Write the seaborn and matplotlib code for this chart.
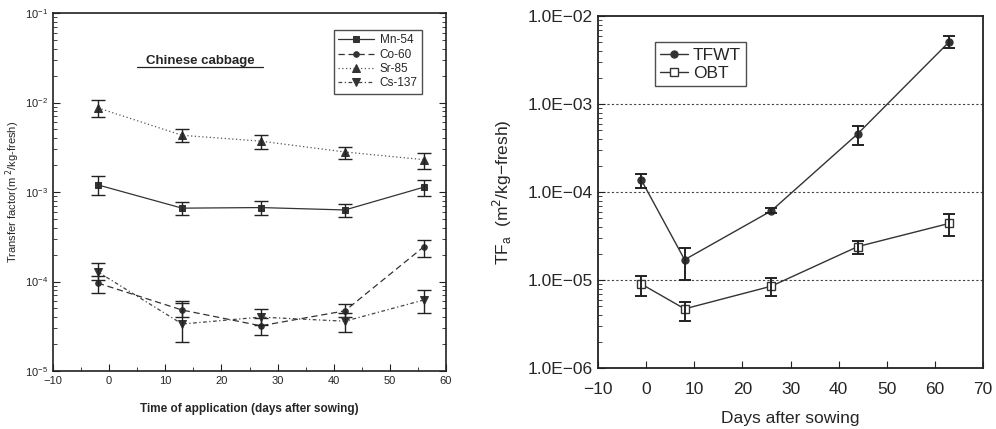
import numpy as np
import pandas as pd
import matplotlib
matplotlib.use("Agg")
import matplotlib.pyplot as plt
import matplotlib.ticker as mticker
import seaborn as sns

# ---- Left panel data (Chinese cabbage) ----
left_days = [-2, 13, 27, 42, 56]
mn54 = [1.2e-3, 6.6e-4, 6.7e-4, 6.3e-4, 1.13e-3]
mn54_hi = [1.5e-3, 7.8e-4, 7.9e-4, 7.4e-4, 1.35e-3]
mn54_lo = [9.2e-4, 5.5e-4, 5.6e-4, 5.3e-4, 9.0e-4]
co60 = [9.6e-5, 4.8e-5, 3.2e-5, 4.7e-5, 2.43e-4]
co60_hi = [1.15e-4, 5.8e-5, 3.9e-5, 5.6e-5, 2.9e-4]
co60_lo = [7.5e-5, 4.0e-5, 2.5e-5, 4.0e-5, 1.9e-4]
sr85 = [8.7e-3, 4.3e-3, 3.7e-3, 2.8e-3, 2.3e-3]
sr85_hi = [1.07e-2, 5.0e-3, 4.3e-3, 3.2e-3, 2.7e-3]
sr85_lo = [6.8e-3, 3.6e-3, 3.0e-3, 2.35e-3, 1.8e-3]
cs137 = [1.28e-4, 3.35e-5, 4.0e-5, 3.6e-5, 6.2e-5]
cs137_hi = [1.6e-4, 6.0e-5, 4.9e-5, 4.4e-5, 8.0e-5]
cs137_lo = [1.05e-4, 2.1e-5, 3.3e-5, 2.7e-5, 4.5e-5]
left_names = ["Mn-54", "Co-60", "Sr-85", "Cs-137"]

# ---- Right panel data ----
right_days = [-1, 8, 26, 44, 63]
tfwt = [1.37e-4, 1.7e-5, 6.1e-5, 4.6e-4, 5.1e-3]
tfwt_hi = [1.6e-4, 2.3e-5, 6.5e-5, 5.6e-4, 5.9e-3]
tfwt_lo = [1.1e-4, 1.0e-5, 5.7e-5, 3.4e-4, 4.3e-3]
obt = [9.0e-6, 4.7e-6, 8.5e-6, 2.4e-5, 4.4e-5]
obt_hi = [1.1e-5, 5.6e-6, 1.05e-5, 2.8e-5, 5.6e-5]
obt_lo = [6.5e-6, 3.4e-6, 6.6e-6, 2.0e-5, 3.2e-5]
right_names = ["TFWT", "OBT"]

sns.set_style("ticks")
plt.rcParams["font.family"] = ["Liberation Sans", "DejaVu Sans"]

fig = plt.figure(figsize=(9.96, 4.29), dpi=100)
W, H = 996, 429
axL = fig.add_axes([53 / W, 1 - 371 / H, (446 - 53) / W, (371 - 13) / H])
axR = fig.add_axes([598 / W, 1 - 368 / H, (983 - 598) / W, (368 - 16) / H])

# ---- Left panel ----
left_vals = [mn54, co60, sr85, cs137]
left_hi = [mn54_hi, co60_hi, sr85_hi, cs137_hi]
left_lo = [mn54_lo, co60_lo, sr85_lo, cs137_lo]
dfL = pd.DataFrame({
    "day": np.tile(left_days, 4),
    "tf": np.concatenate(left_vals),
    "iso": np.repeat(left_names, len(left_days)),
})
styles = {"Mn-54": ("-", "s", 4, "#333333"), "Co-60": ((0, (5, 3)), "o", 4, "#333333"),
          "Sr-85": ((0, (1, 2)), "^", 6, "#555555"), "Cs-137": ((0, (3, 2, 1, 2)), "v", 6, "#444444")}
for name, v, hi, lo in zip(left_names, left_vals, left_hi, left_lo):
    ls, mk, ms, col = styles[name]
    sub = dfL[dfL.iso == name]
    sns.lineplot(data=sub, x="day", y="tf", ax=axL, color=col, lw=0.9,
                 linestyle=ls, marker=mk, markersize=ms, markeredgecolor="#333333",
                 markerfacecolor="#333333", label=name, legend=False)
    v = np.array(v)
    axL.errorbar(left_days, v, yerr=[v - np.array(lo), np.array(hi) - v],
                 fmt="none", ecolor="#222222", elinewidth=1.0, capsize=5, capthick=1.0)
axL.set_yscale("log")
axL.set_ylim(1e-5, 1e-1)
axL.set_xlim(-10, 60)
axL.xaxis.set_major_locator(mticker.MultipleLocator(10))
axL.xaxis.set_minor_locator(mticker.MultipleLocator(5))
axL.yaxis.set_minor_locator(mticker.LogLocator(base=10, subs=np.arange(2, 10)))
axL.yaxis.set_minor_formatter(mticker.NullFormatter())
axL.tick_params(axis="both", which="both", direction="in", right=True, color="#222222")
axL.tick_params(axis="both", which="major", length=5, labelsize=8)
axL.tick_params(axis="both", which="minor", length=3)
for s in axL.spines.values():
    s.set_linewidth(1.2)
    s.set_color("#222222")
axL.set_xlabel("Time of application (days after sowing)", fontsize=8.5,
               fontweight="bold", labelpad=12)
axL.set_ylabel("Transfer factor(m $^{2}$/kg-fresh)", fontsize=8, labelpad=2)
axL.text(0.375, 0.865, "Chinese cabbage", transform=axL.transAxes, fontsize=9.5,
         fontweight="bold", ha="center", va="center")
axL.plot([0.215, 0.535], [0.85, 0.85], transform=axL.transAxes, color="#222222", lw=0.9)
legL = axL.legend(loc="upper right", bbox_to_anchor=(0.955, 0.97), fontsize=8.5,
                  frameon=True, fancybox=False, edgecolor="#222222", handlelength=3.0,
                  borderpad=0.4, labelspacing=0.2, handletextpad=0.5)
legL.get_frame().set_linewidth(1.0)

# ---- Right panel ----
dfR = pd.DataFrame({
    "day": np.tile(right_days, 2),
    "tf": np.concatenate([tfwt, obt]),
    "kind": np.repeat(right_names, len(right_days)),
})
for name, v, hi, lo, mk, mfc, ms in [("TFWT", tfwt, tfwt_hi, tfwt_lo, "o", "#333333", 5),
                                      ("OBT", obt, obt_hi, obt_lo, "s", "white", 5.5)]:
    sub = dfR[dfR.kind == name]
    sns.lineplot(data=sub, x="day", y="tf", ax=axR, color="#333333", lw=1.0,
                 marker=mk, markersize=ms, markerfacecolor=mfc,
                 markeredgecolor="#333333", markeredgewidth=1.0, label=name, legend=False)
    v = np.array(v)
    axR.errorbar(right_days, v, yerr=[v - np.array(lo), np.array(hi) - v],
                 fmt="none", ecolor="#222222", elinewidth=1.4, capsize=4, capthick=1.4)
axR.set_yscale("log")
axR.set_ylim(1e-6, 1e-2)
axR.set_xlim(-10, 70)
axR.xaxis.set_major_locator(mticker.MultipleLocator(10))
axR.yaxis.set_major_locator(mticker.LogLocator(base=10))
axR.yaxis.set_major_formatter(mticker.FuncFormatter(
    lambda y, p: "1.0E\u2212%02d" % round(-np.log10(y))))
axR.yaxis.set_minor_locator(mticker.LogLocator(base=10, subs=np.arange(2, 10)))
axR.yaxis.set_minor_formatter(mticker.NullFormatter())
for yv in [1e-5, 1e-4, 1e-3]:
    axR.axhline(yv, color="#444444", lw=0.8, ls=(0, (2, 2)), zorder=0)
axR.tick_params(axis="both", which="both", direction="in", color="#222222")
axR.tick_params(axis="both", which="major", length=5, labelsize=12.5)
axR.tick_params(axis="x", which="major", pad=10)
axR.tick_params(axis="y", which="minor", length=3)
for s in axR.spines.values():
    s.set_linewidth(1.3)
    s.set_color("#222222")
axR.set_xlabel("Days after sowing", fontsize=12.5, labelpad=10)
axR.set_ylabel("TF$_\\mathregular{a}$  (m$^{2}$/kg\u2212fresh)", fontsize=12.5, labelpad=10)
legR = axR.legend(loc="upper left", bbox_to_anchor=(0.125, 0.95), fontsize=12.5,
                  frameon=True, fancybox=False, edgecolor="#222222", handlelength=1.6,
                  borderpad=0.3, labelspacing=0.2, handletextpad=0.3)
legR.get_frame().set_linewidth(1.0)

fig.savefig("out.png", dpi=100, facecolor="white")
